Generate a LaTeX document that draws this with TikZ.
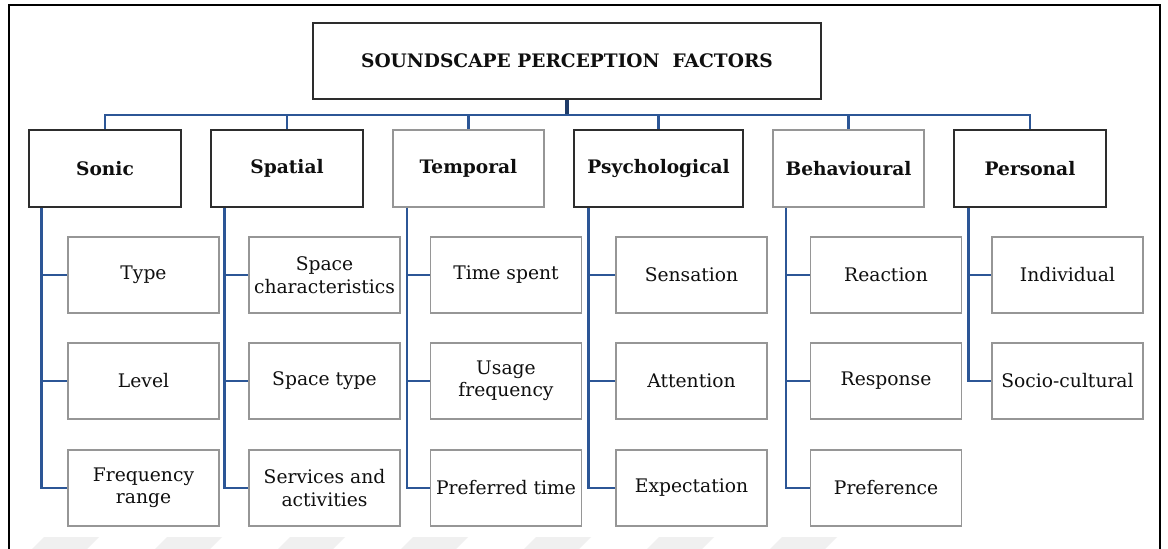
\documentclass[tikz,border=0pt]{standalone}
\usepackage{fontspec}
\setmainfont{DejaVu Serif}
\usetikzlibrary{calc}
\definecolor{linkblue}{RGB}{44,86,150}
\definecolor{darkedge}{RGB}{45,45,45}
\definecolor{lightedge}{RGB}{150,150,150}
\definecolor{inktext}{RGB}{15,15,15}
\begin{document}
\begin{tikzpicture}[x=1pt,y=-1pt,
  base/.style={rectangle, inner sep=0pt, align=center, text=inktext, fill=white},
  rootbox/.style={base, draw=darkedge, line width=2.8pt, minimum width=508pt, minimum height=76pt,
    font=\fontsize{18.6}{22}\selectfont\bfseries},
  headdark/.style={base, draw=darkedge, line width=2.6pt, minimum height=77pt,
    font=\fontsize{18.6}{22}\selectfont\bfseries},
  headlight/.style={base, draw=lightedge, line width=1.7pt, minimum height=77pt,
    font=\fontsize{18.6}{22}\selectfont\bfseries},
  leafbox/.style={base, draw=lightedge, line width=1.7pt, minimum width=151pt, minimum height=76pt,
    font=\fontsize{18.7}{22.5}\selectfont},
  link/.style={draw=linkblue, line width=2.6pt},
]
\useasboundingbox (0,0) rectangle (1168,549);
\fill[white] (0,0) rectangle (1168,549);

% faint stripes along the lower edge
\foreach \s in {44,167,290,413,536,659,782}{
  \fill[black!6] (\s,537) -- (\s+55,537) -- (\s+43,549) -- (\s-12,549) -- cycle;
}

% outer frame, open at the bottom
\draw[black, line width=2.4pt] (9,560) -- (9,5) -- (1160,5) -- (1160,560);

% root
\node[rootbox] (root) at (567,61) {SOUNDSCAPE PERCEPTION\ \ FACTORS};

% first level
\node[headdark,  minimum width=152pt] (sonic)   at (105,168.5)   {Sonic};
\node[headdark,  minimum width=152pt] (spatial) at (287,168.5)   {Spatial};
\node[headlight, minimum width=151pt] (temporal) at (468.5,168.5) {Temporal};
\node[headdark,  minimum width=169pt] (psych)   at (658.5,168.5) {Psychological};
\node[headlight, minimum width=151pt] (behav)   at (848.5,168.5) {Behavioural};
\node[headdark,  minimum width=152pt] (personal) at (1030,168.5) {Personal};

% second level
\node[leafbox] (type)  at (143.5,275) {Type};
\node[leafbox] (level) at (143.5,381) {Level};
\node[leafbox] (freq)  at (143.5,488) {Frequency\\range};

\node[leafbox] (spchar) at (324.5,275) {Space\\characteristics};
\node[leafbox] (sptype) at (324.5,381) {Space type};
\node[leafbox] (serv)   at (324.5,488) {Services and\\activities};

\node[leafbox] (tspent) at (506,275) {Time spent};
\node[leafbox] (usage)  at (506,381) {Usage\\frequency};
\node[leafbox] (ptime)  at (506,488) {Preferred time};

\node[leafbox] (sens)   at (691.5,275) {Sensation};
\node[leafbox] (attn)   at (691.5,381) {Attention};
\node[leafbox] (expect) at (691.5,488) {Expectation};

\node[leafbox] (react)  at (886,275) {Reaction};
\node[leafbox] (resp)   at (886,381) {Response};
\node[leafbox] (pref)   at (886,488) {Preference};

\node[leafbox] (indiv)  at (1067.5,275) {Individual};
\node[leafbox] (socio)  at (1067.5,381) {Socio-cultural};

% bus from the root to the first level
\coordinate (bus) at (567,115);
\draw[link, line width=3.4pt, draw=linkblue!70!black] (root.south) -- (bus);
\foreach \h in {sonic,spatial,temporal,psych,behav,personal}{
  \draw[link] (\h.north) |- (bus);
}

% trunks down to the second level
\foreach \h/\dx/\leaves in {sonic/14/{type,level,freq},spatial/15/{spchar,sptype,serv},
    temporal/15/{tspent,usage,ptime},psych/16/{sens,attn,expect},
    behav/14/{react,resp,pref},personal/16/{indiv,socio}}{
  \foreach \l in \leaves{
    \draw[link] ($(\h.south west)+(\dx,0)$) |- (\l.west);
  }
}
\end{tikzpicture}
\end{document}
